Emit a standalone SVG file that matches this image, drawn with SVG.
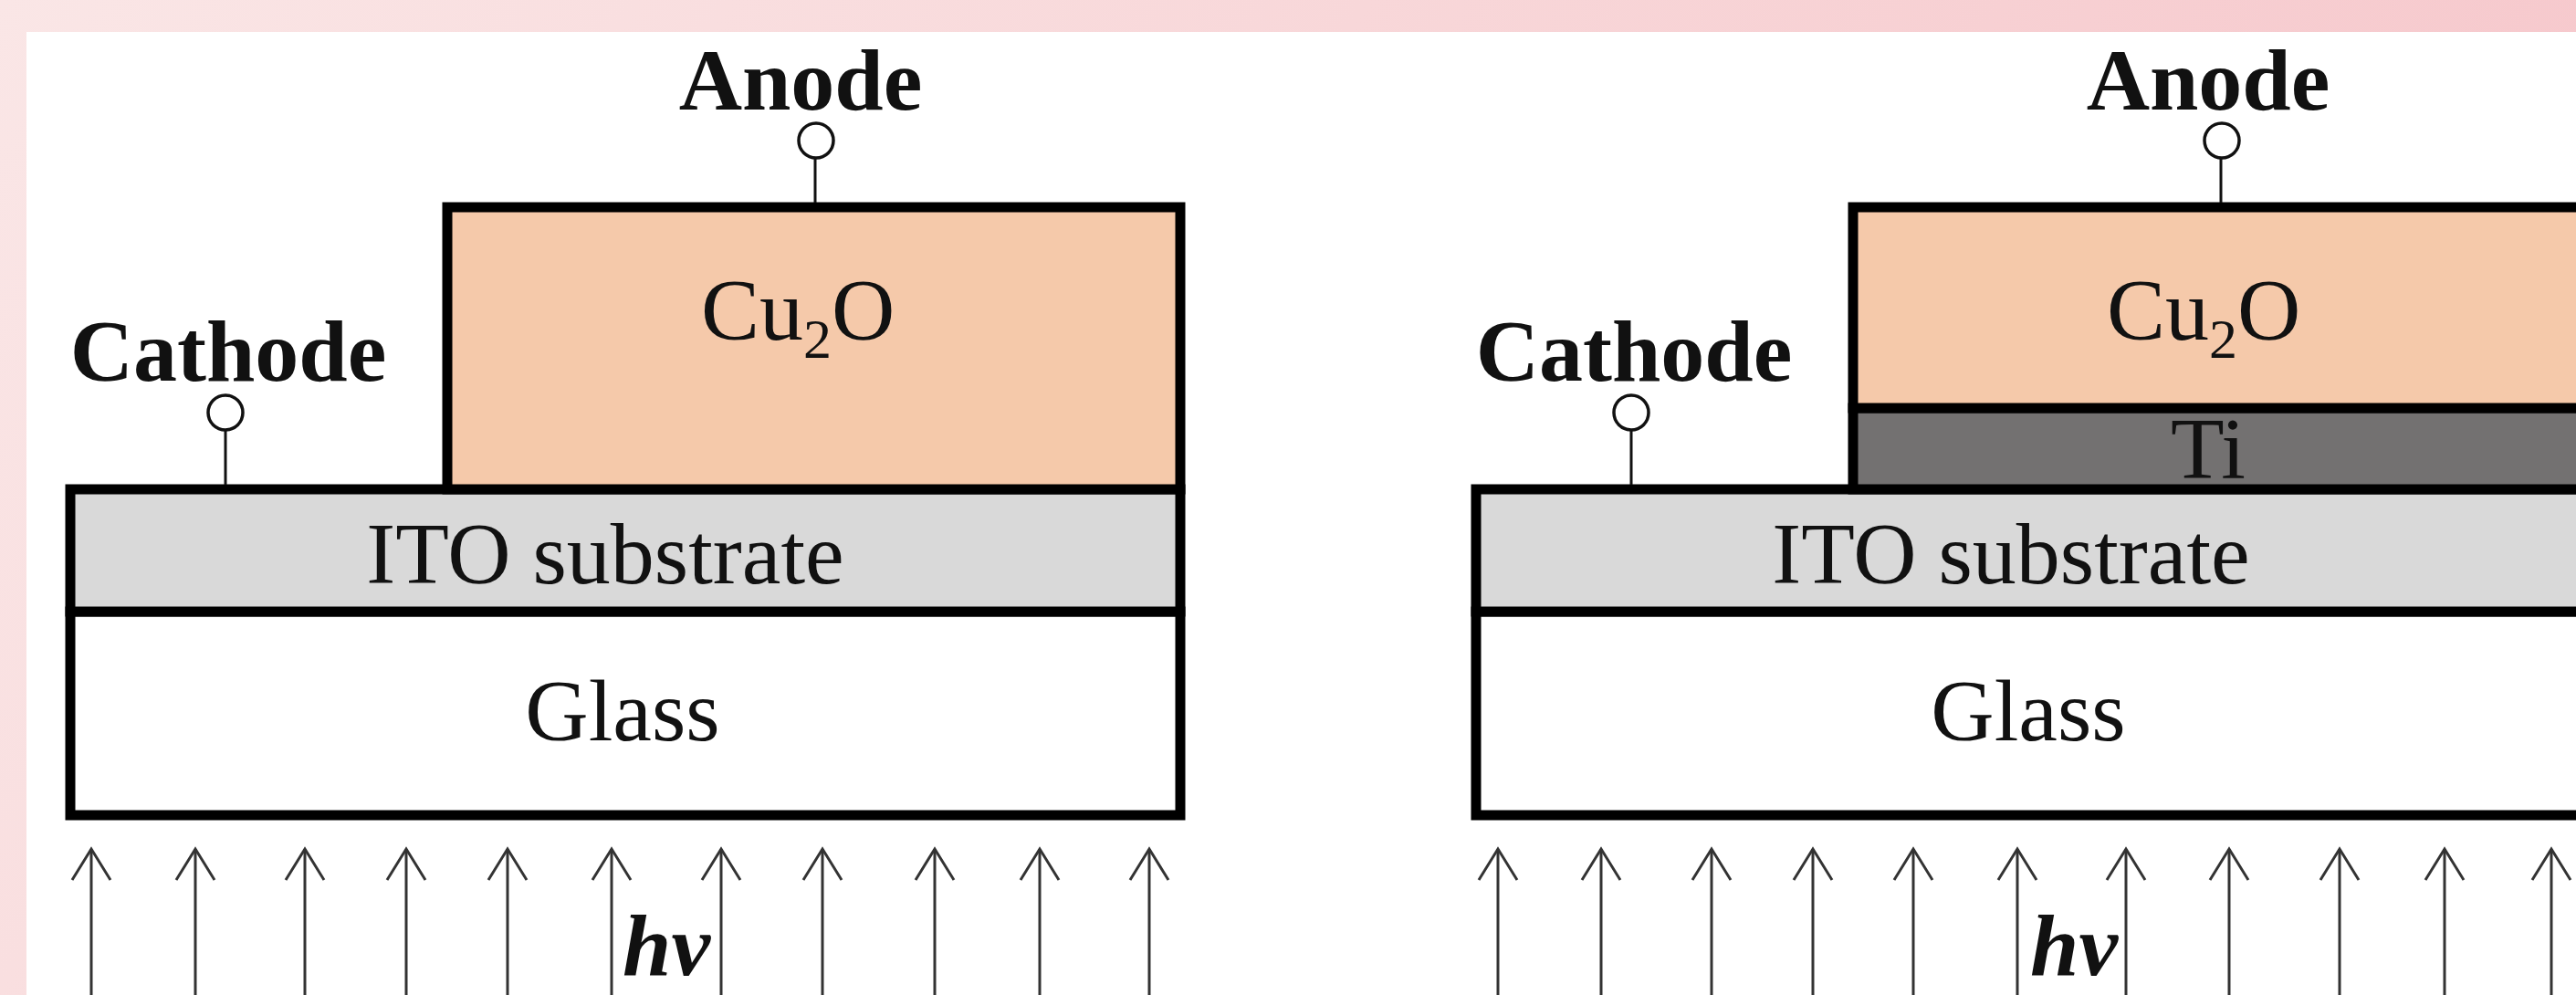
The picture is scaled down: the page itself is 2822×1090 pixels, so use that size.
<svg xmlns="http://www.w3.org/2000/svg" width="2822" height="1090" viewBox="0 0 2822 1090">
<defs>
<linearGradient id="bg" x1="0" y1="0" x2="1" y2="0.25">
<stop offset="0" stop-color="#fae6e6"/>
<stop offset="1" stop-color="#f6c8cc"/>
</linearGradient>
<marker id="ah" viewBox="-40 -26 44 52" refX="0" refY="0" markerWidth="44" markerHeight="52" markerUnits="userSpaceOnUse" orient="auto" overflow="visible">
<path d="M -34 -21 L 0 0 L -34 21" fill="none" stroke="#333" stroke-width="3"/>
</marker>
<style>
.layer{stroke:#000;stroke-width:11}
.cu{fill:#f5c9aa}
.ito{fill:#d9d9d9}
.ti{fill:#737171}
.glass{fill:#fff}
.t{font-family:"Liberation Serif","Times New Roman",serif;font-size:96px;fill:#111}
.b{font-weight:bold}
.term circle{fill:#fff;stroke:#111;stroke-width:3.5}
.term line{stroke:#111;stroke-width:3}
.ray{stroke:#333;stroke-width:3;marker-end:url(#ah)}
</style>
</defs>
<rect x="0" y="0" width="2822" height="1090" fill="url(#bg)"/>
<rect x="29" y="35" width="2793" height="1055" fill="#fff"/>

<!-- Left device -->
<g id="left-glass"><rect class="layer glass" x="77" y="670" width="1216" height="223"/><text class="t" x="682" y="811" text-anchor="middle">Glass</text></g>
<g id="left-ito"><rect class="layer ito" x="77" y="536" width="1216" height="134"/><text class="t" x="663" y="639" text-anchor="middle">ITO substrate</text></g>
<g id="left-cu2o"><rect class="layer cu" x="490" y="227" width="803" height="309"/><text class="t" x="768" y="372">Cu<tspan font-size="62" dy="20">2</tspan><tspan dy="-20">O</tspan></text></g>
<g id="left-anode" class="term"><text class="t b" x="877" y="120" text-anchor="middle">Anode</text><circle cx="894" cy="154" r="19"/></g>
<g id="left-cathode" class="term"><text class="t b" x="250" y="417" text-anchor="middle">Cathode</text><circle cx="247" cy="452" r="19"/></g>
<g id="left-light"><text class="t b" font-style="italic" x="682" y="1068">hν</text></g>

<!-- Right device -->
<g id="right-glass"><rect class="layer glass" x="1617" y="670" width="1216" height="223"/><text class="t" x="2222" y="811" text-anchor="middle">Glass</text></g>
<g id="right-ito"><rect class="layer ito" x="1617" y="536" width="1216" height="134"/><text class="t" x="2203" y="639" text-anchor="middle">ITO substrate</text></g>
<g id="right-ti"><rect class="layer ti" x="2030" y="447" width="803" height="89"/><text class="t" x="2419" y="524" text-anchor="middle">Ti</text></g>
<g id="right-cu2o"><rect class="layer cu" x="2030" y="227" width="803" height="220"/><text class="t" x="2308" y="372">Cu<tspan font-size="62" dy="20">2</tspan><tspan dy="-20">O</tspan></text></g>
<g id="right-anode" class="term"><text class="t b" x="2419" y="120" text-anchor="middle">Anode</text><circle cx="2434" cy="154" r="19"/></g>
<g id="right-cathode" class="term"><text class="t b" x="1790" y="417" text-anchor="middle">Cathode</text><circle cx="1787" cy="452" r="19"/></g>
<g id="right-light"><text class="t b" font-style="italic" x="2224" y="1068">hν</text></g>

<g id="connectors">
<g class="term">
<line x1="893" y1="173" x2="893" y2="222"/>
<line x1="247" y1="471" x2="247" y2="531"/>
<line x1="2433" y1="173" x2="2433" y2="222"/>
<line x1="1787" y1="471" x2="1787" y2="531"/>
</g>
<g id="rays-left">
<line class="ray" x1="100" y1="1090" x2="100" y2="930"/>
<line class="ray" x1="214" y1="1090" x2="214" y2="930"/>
<line class="ray" x1="334" y1="1090" x2="334" y2="930"/>
<line class="ray" x1="445" y1="1090" x2="445" y2="930"/>
<line class="ray" x1="556" y1="1090" x2="556" y2="930"/>
<line class="ray" x1="670" y1="1090" x2="670" y2="930"/>
<line class="ray" x1="790" y1="1090" x2="790" y2="930"/>
<line class="ray" x1="901" y1="1090" x2="901" y2="930"/>
<line class="ray" x1="1024" y1="1090" x2="1024" y2="930"/>
<line class="ray" x1="1139" y1="1090" x2="1139" y2="930"/>
<line class="ray" x1="1259" y1="1090" x2="1259" y2="930"/>
</g>
<g id="rays-right">
<line class="ray" x1="1641" y1="1090" x2="1641" y2="930"/>
<line class="ray" x1="1754" y1="1090" x2="1754" y2="930"/>
<line class="ray" x1="1875" y1="1090" x2="1875" y2="930"/>
<line class="ray" x1="1986" y1="1090" x2="1986" y2="930"/>
<line class="ray" x1="2096" y1="1090" x2="2096" y2="930"/>
<line class="ray" x1="2210" y1="1090" x2="2210" y2="930"/>
<line class="ray" x1="2329" y1="1090" x2="2329" y2="930"/>
<line class="ray" x1="2442" y1="1090" x2="2442" y2="930"/>
<line class="ray" x1="2563" y1="1090" x2="2563" y2="930"/>
<line class="ray" x1="2678" y1="1090" x2="2678" y2="930"/>
<line class="ray" x1="2795" y1="1090" x2="2795" y2="930"/>
</g>
</g>
</svg>
